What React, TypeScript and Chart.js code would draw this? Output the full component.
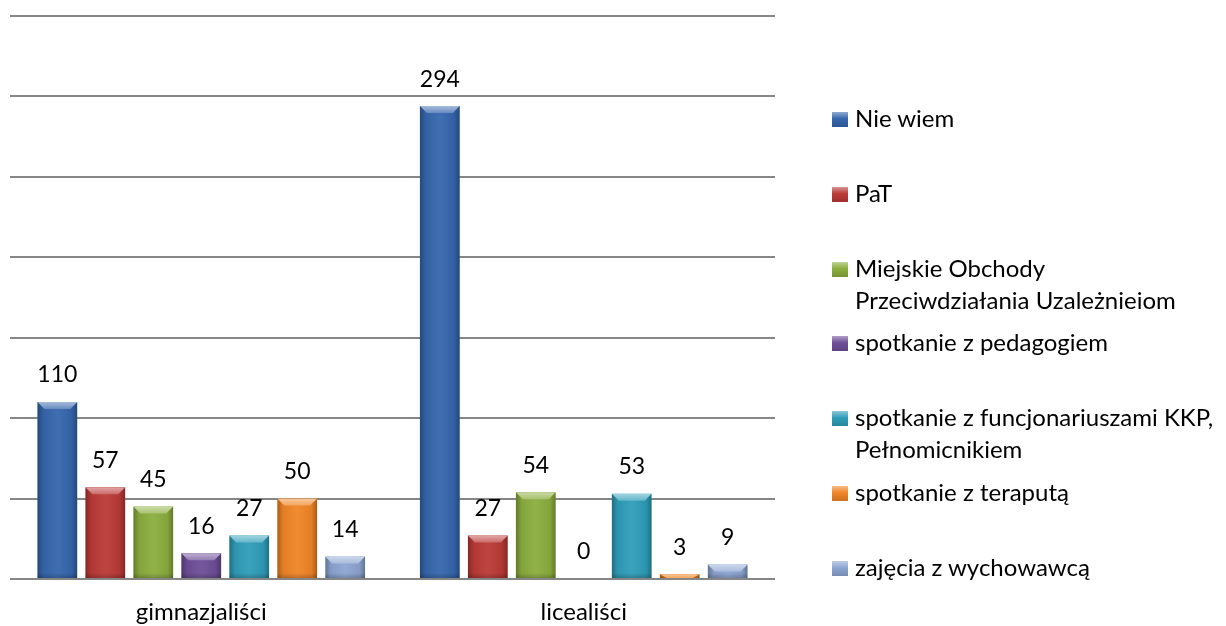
import React, { useEffect, useRef } from "react";
import { Chart, registerables } from "chart.js";

Chart.register(...registerables);

const categories = ["gimnazjaliści", "licealiści"];
const seriesNames = [
  "Nie wiem",
  "PaT",
  "Miejskie Obchody\nPrzeciwdziałania Uzależnieiom",
  "spotkanie z pedagogiem",
  "spotkanie z funcjonariuszami KKP,\nPełnomicnikiem",
  "spotkanie z teraputą",
  "zajęcia z wychowawcą",
];
const nieWiem = [110, 294];
const paT = [57, 27];
const miejskieObchody = [45, 54];
const pedagog = [16, 0];
const funkcjonariusze = [27, 53];
const terapeuta = [50, 3];
const wychowawca = [14, 9];
const seriesValues = [nieWiem, paT, miejskieObchody, pedagog, funkcjonariusze, terapeuta, wychowawca];
const seriesColors = ["#3566AD", "#BA3A36", "#8BAE3E", "#6E4E98", "#2F9DB9", "#F08526", "#8CA5D2"];

const FONT = "Lato, 'Open Sans', sans-serif";

function shade(hex: string, amt: number) {
  const n = parseInt(hex.slice(1), 16);
  let r = (n >> 16) & 255, g = (n >> 8) & 255, b = n & 255;
  const f = (c: number) => Math.max(0, Math.min(255, Math.round(amt >= 0 ? c + (255 - c) * amt : c * (1 + amt))));
  return `rgb(${f(r)},${f(g)},${f(b)})`;
}

const bevelPlugin = {
  id: "bevel",
  afterDatasetsDraw(chart: any) {
    const ctx = chart.ctx;
    chart.data.datasets.forEach((ds: any, di: number) => {
      const meta = chart.getDatasetMeta(di);
      const base = seriesColors[di];
      meta.data.forEach((el: any) => {
        const { x, y, width } = el.getProps(["x", "y", "width"], true);
        const bottom = el.base;
        const h = bottom - y;
        if (h <= 0.5) return;
        const l = x - width / 2, r = x + width / 2;
        ctx.save();
        ctx.beginPath();
        ctx.rect(l, y, width, h);
        ctx.clip();
        const g = ctx.createLinearGradient(l, 0, r, 0);
        g.addColorStop(0, "rgba(0,0,0,0.3)");
        g.addColorStop(0.14, "rgba(0,0,0,0.06)");
        g.addColorStop(0.5, "rgba(255,255,255,0.05)");
        g.addColorStop(0.86, "rgba(0,0,0,0.06)");
        g.addColorStop(1, "rgba(0,0,0,0.3)");
        ctx.fillStyle = g;
        ctx.fillRect(l, y, width, h);
        const bh = Math.min(5, h);
        const gb = ctx.createLinearGradient(0, bottom - bh, 0, bottom);
        gb.addColorStop(0, "rgba(0,0,0,0)");
        gb.addColorStop(1, "rgba(0,0,0,0.2)");
        ctx.fillStyle = gb;
        ctx.fillRect(l, bottom - bh, width, bh);
        const t = Math.min(7, h);
        const gt = ctx.createLinearGradient(0, y, 0, y + t);
        gt.addColorStop(0, shade(base, 0.55));
        gt.addColorStop(1, shade(base, 0.25));
        ctx.fillStyle = gt;
        ctx.beginPath();
        ctx.moveTo(l, y);
        ctx.lineTo(r, y);
        ctx.lineTo(r - 7, y + t);
        ctx.lineTo(l + 7, y + t);
        ctx.closePath();
        ctx.fill();
        ctx.restore();
      });
    });
  },
};

const labelPlugin = {
  id: "valueLabels",
  afterDatasetsDraw(chart: any) {
    const ctx = chart.ctx;
    ctx.save();
    ctx.font = `23px ${FONT}`;
    ctx.fillStyle = "#000";
    ctx.textAlign = "center";
    ctx.textBaseline = "middle";
    chart.data.datasets.forEach((ds: any, di: number) => {
      const meta = chart.getDatasetMeta(di);
      meta.data.forEach((el: any, i: number) => {
        const { x, y } = el.getProps(["x", "y"], true);
        ctx.fillText(String(ds.data[i]), x, y - 27);
      });
    });
    ctx.restore();
  },
};

export default function App() {
  const canvasRef = useRef<HTMLCanvasElement | null>(null);

  useEffect(() => {
    document.body.style.margin = "0";
    const chart = new Chart(canvasRef.current!, {
      type: "bar",
      data: {
        labels: categories,
        datasets: seriesNames.map((name, i) => ({
          label: name,
          data: seriesValues[i],
          backgroundColor: seriesColors[i],
          borderWidth: 0,
          barPercentage: 0.83,
          categoryPercentage: 0.878,
        })),
      },
      options: {
        responsive: false,
        animation: false,
        layout: { padding: { left: 10, right: 451, top: 16, bottom: 0 } },
        plugins: { legend: { display: false }, tooltip: { enabled: false } },
        scales: {
          x: {
            grid: { display: false, drawTicks: false },
            border: { display: false },
            ticks: { color: "#000", font: { family: FONT, size: 24 }, padding: 19 },
            afterFit: (scale: any) => {
              scale.height = 47;
            },
          },
          y: {
            min: 0,
            max: 350,
            ticks: { stepSize: 50, display: false },
            grid: { color: "#868686", lineWidth: 2, drawTicks: false },
            border: { display: false },
          },
        },
      },
      plugins: [bevelPlugin, labelPlugin],
    });
    return () => chart.destroy();
  }, []);

  const rowH = 74.8;
  return (
    <div style={{ position: "relative", width: 1226, height: 626, background: "#fff", fontFamily: FONT }}>
      <canvas ref={canvasRef} width={1226} height={626} style={{ display: "block" }} />
      <div style={{ position: "absolute", left: 832, top: 102 }}>
        {seriesNames.map((name, i) => (
          <div key={name} style={{ position: "relative", height: rowH }}>
            <div
              style={{
                position: "absolute",
                left: 0,
                top: 10,
                width: 16,
                height: 15,
                background: `linear-gradient(180deg, ${shade(seriesColors[i], 0.45)} 0%, ${seriesColors[i]} 45%, ${shade(seriesColors[i], -0.15)} 100%)`,
              }}
            />
            <div
              style={{
                position: "absolute",
                left: 23,
                top: 0,
                whiteSpace: "pre",
                fontSize: 24,
                lineHeight: "32px",
                color: "#000",
              }}
            >
              {name}
            </div>
          </div>
        ))}
      </div>
    </div>
  );
}
